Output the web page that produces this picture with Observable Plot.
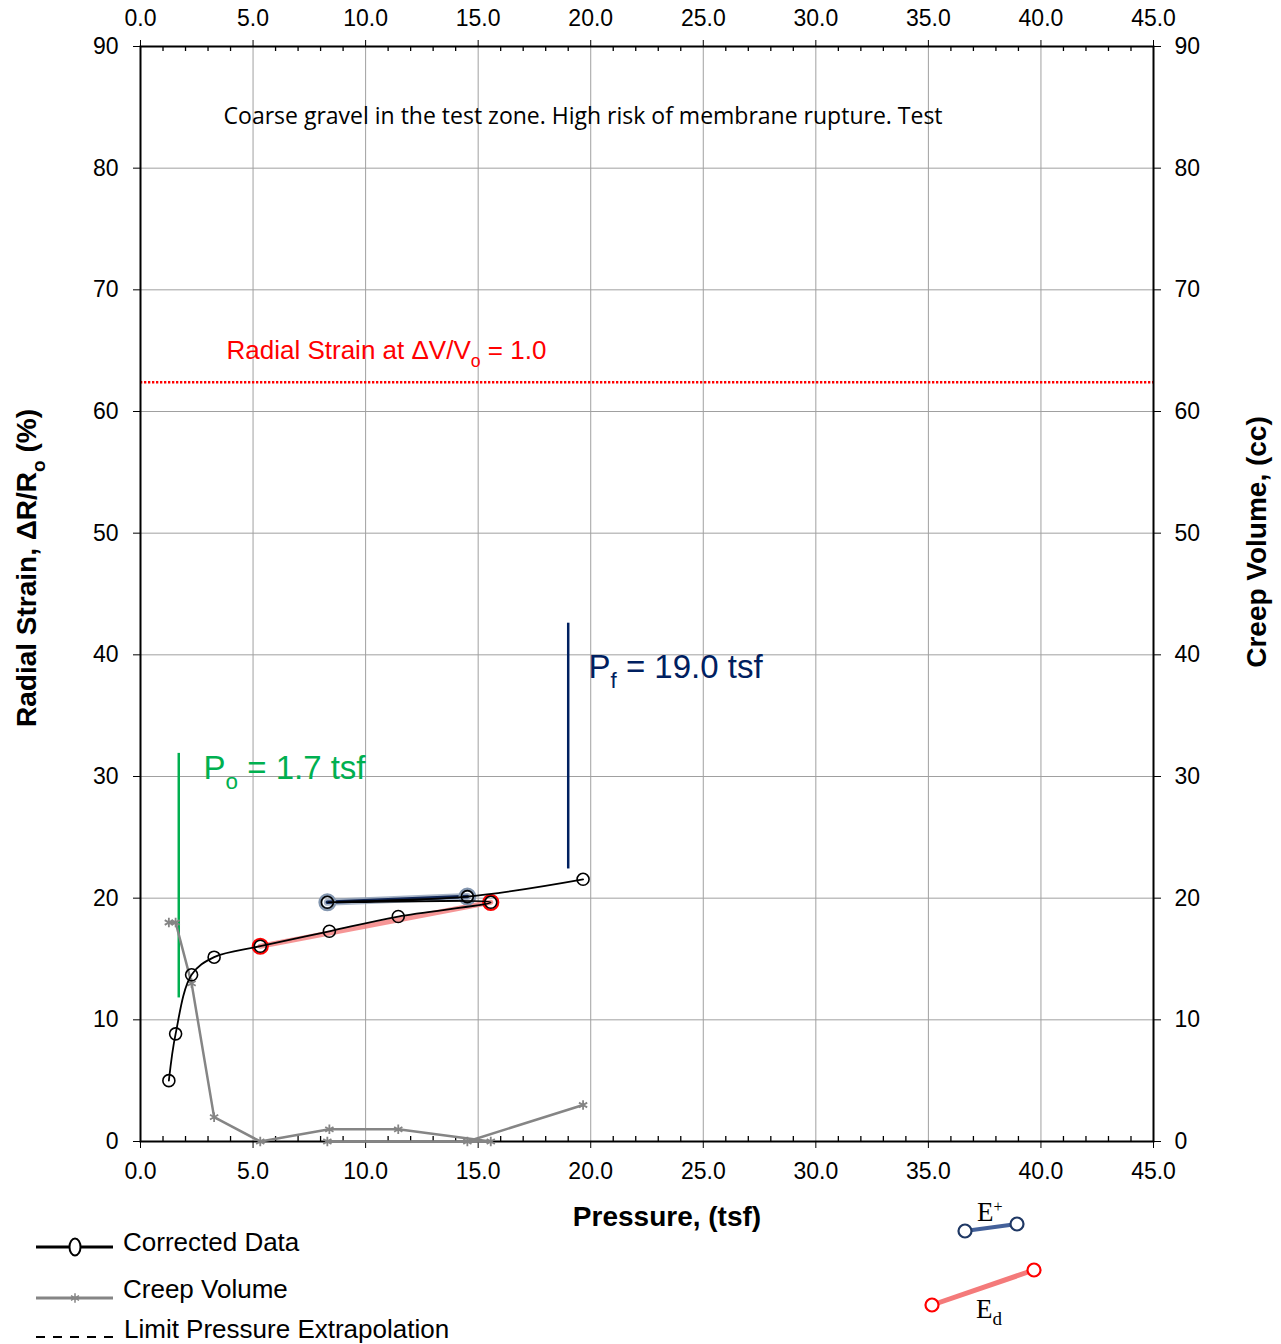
<!DOCTYPE html>
<html>
<head>
<meta charset="utf-8">
<script src="https://cdn.jsdelivr.net/npm/d3@7"></script>
<script src="https://cdn.jsdelivr.net/npm/@observablehq/plot@0.6"></script>
<style>
  body { margin: 0; background: #fff; }
  #wrap { position: relative; width: 1281px; height: 1344px; background: #fff; font-family: "Liberation Sans", Arial, sans-serif; }
  #legend { position: absolute; left: 0; top: 1190px; }
</style>
</head>
<body>
<div id="wrap"></div>
<script>
// ---------------- data ----------------
const pressure = [1.26, 1.56, 2.27, 3.27, 5.32, 8.39, 11.45, 15.56, 8.30, 14.52, 19.66]; // tsf
const strain   = [5.0, 8.85, 13.7, 15.15, 16.05, 17.28, 18.49, 19.66, 19.66, 20.13, 21.55]; // %
const creep    = [18, 18, 13, 2, 0, 1, 1, 0, 0, 0, 3]; // cc
const ePlusIdx = [8, 9];   // unload/reload modulus segment
const eDIdx    = [4, 7];   // deformation modulus segment
const po = 1.7, poSpan = [11.8, 31.9];
const pf = 19.0, pfSpan = [22.4, 42.6];
const radialLimit = 62.4;
const xTicks = [0, 5, 10, 15, 20, 25, 30, 35, 40, 45];
const xMinor = [1,2,3,4,6,7,8,9,11,12,13,14,16,17,18,19,21,22,23,24,26,27,28,29,31,32,33,34,36,37,38,39,41,42,43,44];
const yTicks = [0, 10, 20, 30, 40, 50, 60, 70, 80, 90];
const note = "Coarse gravel in the test zone. High risk of membrane rupture. Test";

// ---------------- build ----------------
const rows = pressure.map((p, i) => ({p, s: strain[i], c: creep[i]}));
const ePlus = ePlusIdx.map(i => rows[i]);
const eD = eDIdx.map(i => rows[i]);

const W = 1281, H = 1240, MT = 46, MB = H - 1141, ML = 140, MR = 128;
const innerH = H - MT - MB;
const AR = "Liberation Sans, Arial, sans-serif";

const chart = Plot.plot({
  width: W, height: H,
  marginTop: MT, marginBottom: MB, marginLeft: ML, marginRight: MR,
  x: {domain: [0, 45]},
  y: {domain: [0, 90]},
  style: {fontFamily: AR, fontSize: "23px", color: "black", background: "white", overflow: "visible"},
  marks: [
    Plot.gridX(xTicks, {stroke: "#a0a0a0", strokeOpacity: 1, strokeWidth: 1}),
    Plot.gridY(yTicks, {stroke: "#a0a0a0", strokeOpacity: 1, strokeWidth: 1}),
    Plot.ruleY([radialLimit], {stroke: "#ff0000", strokeWidth: 2.5, strokeDasharray: "2.3 1.7"}),
    Plot.ruleX(xMinor, {insetTop: innerH - 5, stroke: "black", strokeWidth: 1.3}),
    Plot.ruleX(xMinor, {insetBottom: innerH - 5, stroke: "black", strokeWidth: 1.3}),
    Plot.frame({stroke: "black", strokeWidth: 2}),
    Plot.axisX(xTicks, {anchor: "bottom", tickSize: 7, tickPadding: 14, tickFormat: d3.format(".1f"), fontSize: 23, label: null}),
    Plot.axisX(xTicks, {anchor: "top", tickSize: 7, tickPadding: 14, tickFormat: d3.format(".1f"), fontSize: 23, label: null}),
    Plot.axisY(yTicks, {anchor: "left", tickSize: 7, tickPadding: 15, fontSize: 23, label: null}),
    Plot.axisY(yTicks, {anchor: "right", tickSize: 7, tickPadding: 14, fontSize: 23, label: null}),
    // Po and Pf markers
    Plot.ruleX([po], {y1: poSpan[0], y2: poSpan[1], stroke: "#00b050", strokeWidth: 2.5}),
    Plot.ruleX([pf], {y1: pfSpan[0], y2: pfSpan[1], stroke: "#002060", strokeWidth: 2.5}),
    // modulus segments
    Plot.line(eD, {x: "p", y: "s", stroke: "#f47c7c", strokeWidth: 5, strokeOpacity: 0.8}),
    Plot.line(ePlus, {x: "p", y: "s", stroke: "#8497b0", strokeWidth: 7, strokeOpacity: 0.7}),
    Plot.line(ePlus, {x: "p", y: "s", stroke: "#13295a", strokeWidth: 3.5}),
    Plot.dot(ePlus, {x: "p", y: "s", r: 7, stroke: "#8497b0", strokeWidth: 4, fill: "none"}),
    Plot.dot(eD, {x: "p", y: "s", r: 7.5, stroke: "#ff0000", strokeWidth: 2.2, fill: "none"}),
    // creep volume
    Plot.line(rows, {x: "p", y: "c", stroke: "#858585", strokeWidth: 2.5}),
    Plot.dot(rows, {x: "p", y: "c", symbol: "asterisk", r: 4.5, stroke: "#858585", strokeWidth: 1.8}),
    // corrected data
    Plot.line(rows, {x: "p", y: "s", stroke: "black", strokeWidth: 1.8, curve: "catmull-rom"}),
    Plot.dot(rows, {x: "p", y: "s", r: 6, stroke: "black", strokeWidth: 1.6, fill: "none"}),
    // annotations
    Plot.text([note], {x: 3.69, y: 84.2, text: d => d, textAnchor: "start", lineAnchor: "middle", fontFamily: "Open Sans, Lato, sans-serif", fontSize: 23, fill: "black"}),
    Plot.text(["Radial Strain at ΔV/V_o = 1.0"], {x: 3.82, y: radialLimit + 2.6, text: d => d, textAnchor: "start", lineAnchor: "middle", fontSize: 26, fill: "#ff0000"}),
    Plot.text(["P_o = 1.7 tsf"], {x: po + 1.1, y: 30.65, text: d => d, textAnchor: "start", lineAnchor: "middle", fontSize: 33, fill: "#00b050"}),
    Plot.text(["P_f = 19.0 tsf"], {x: pf + 0.9, y: 38.97, text: d => d, textAnchor: "start", lineAnchor: "middle", fontSize: 33, fill: "#002060"}),
    // axis titles
    Plot.text(["Pressure, (tsf)"], {frameAnchor: "bottom", dx: 20, dy: 76, text: d => d, textAnchor: "middle", lineAnchor: "middle", fontSize: 28, fontWeight: "bold"}),
    Plot.text(["Radial Strain, ΔR/R_o (%)"], {frameAnchor: "left", dx: -113, dy: -26, rotate: -90, text: d => d, textAnchor: "middle", lineAnchor: "middle", fontSize: 28, fontWeight: "bold"}),
    Plot.text(["Creep Volume, (cc)"], {frameAnchor: "right", dx: 104, dy: -52, rotate: -90, text: d => d, textAnchor: "middle", lineAnchor: "middle", fontSize: 28, fontWeight: "bold"})
  ]
});

const wrap = document.getElementById("wrap");
wrap.appendChild(chart);

// subscripts / superscripts as real tspans (after attaching so styles resolve)
const NS = "http://www.w3.org/2000/svg";
chart.querySelectorAll("text").forEach(t => {
  const s = t.textContent;
  if (!/[_^]./.test(s) || t.querySelector("tspan")) return;
  const fs = parseFloat(getComputedStyle(t).fontSize) || 26;
  const parts = s.split(/([_^].)/).filter(Boolean);
  t.textContent = "";
  let pending = 0;
  parts.forEach(p => {
    const ts = document.createElementNS(NS, "tspan");
    if (p[0] === "_" || p[0] === "^") {
      const shift = p[0] === "_" ? fs * 0.3 : -fs * 0.4;
      ts.textContent = p.slice(1);
      ts.setAttribute("font-size", (fs * 0.68) + "px");
      ts.setAttribute("dy", shift);
      pending = -shift;
    } else {
      ts.textContent = p;
      if (pending) { ts.setAttribute("dy", pending); pending = 0; }
    }
    t.appendChild(ts);
  });
});

// legend below the chart
const legend = d3.select(wrap).append("svg").attr("id", "legend")
  .attr("width", 1281).attr("height", 154)
  .attr("font-family", AR);
const oy = 1190;
const L = legend.append("g").attr("transform", `translate(0,${-oy})`);
// Corrected data
L.append("line").attr("x1", 36).attr("x2", 113).attr("y1", 1247).attr("y2", 1247).attr("stroke", "black").attr("stroke-width", 3);
L.append("ellipse").attr("cx", 75).attr("cy", 1247).attr("rx", 5.5).attr("ry", 8.5).attr("fill", "white").attr("stroke", "black").attr("stroke-width", 2);
L.append("text").attr("x", 123).attr("y", 1251).attr("font-size", 26).text("Corrected Data");
// Creep volume
L.append("line").attr("x1", 36).attr("x2", 113).attr("y1", 1298).attr("y2", 1298).attr("stroke", "#858585").attr("stroke-width", 3);
L.append("path").attr("d", d3.symbol(d3.symbolAsterisk, 60)()).attr("transform", "translate(75,1298)").attr("stroke", "#858585").attr("stroke-width", 1.5).attr("fill", "none");
L.append("text").attr("x", 123).attr("y", 1297.5).attr("font-size", 26).text("Creep Volume");
// Limit pressure extrapolation
L.append("line").attr("x1", 36).attr("x2", 115).attr("y1", 1337).attr("y2", 1337).attr("stroke", "black").attr("stroke-width", 2).attr("stroke-dasharray", "9 8");
L.append("text").attr("x", 124).attr("y", 1337.5).attr("font-size", 26).text("Limit Pressure Extrapolation");
// E+ swatch
L.append("line").attr("x1", 965).attr("y1", 1231).attr("x2", 1017).attr("y2", 1224).attr("stroke", "#44619a").attr("stroke-width", 4);
[[965,1231],[1017,1224]].forEach(([x,y]) => L.append("circle").attr("cx", x).attr("cy", y).attr("r", 6.5).attr("fill", "white").attr("stroke", "#1f3864").attr("stroke-width", 2.2));
const tE = L.append("text").attr("x", 977).attr("y", 1221).attr("font-family", "Liberation Serif, Times New Roman, serif").attr("font-size", 27);
tE.append("tspan").text("E");
tE.append("tspan").attr("font-size", 16).attr("dy", -9).text("+");
// Ed swatch
L.append("line").attr("x1", 932).attr("y1", 1305).attr("x2", 1034).attr("y2", 1270).attr("stroke", "#f47a7a").attr("stroke-width", 5);
[[932,1305],[1034,1270]].forEach(([x,y]) => L.append("circle").attr("cx", x).attr("cy", y).attr("r", 6.5).attr("fill", "white").attr("stroke", "#ff0000").attr("stroke-width", 2.2));
const tD = L.append("text").attr("x", 976).attr("y", 1318).attr("font-family", "Liberation Serif, Times New Roman, serif").attr("font-size", 27);
tD.append("tspan").text("E");
tD.append("tspan").attr("font-size", 19).attr("dy", 7).text("d");
</script>
</body>
</html>
